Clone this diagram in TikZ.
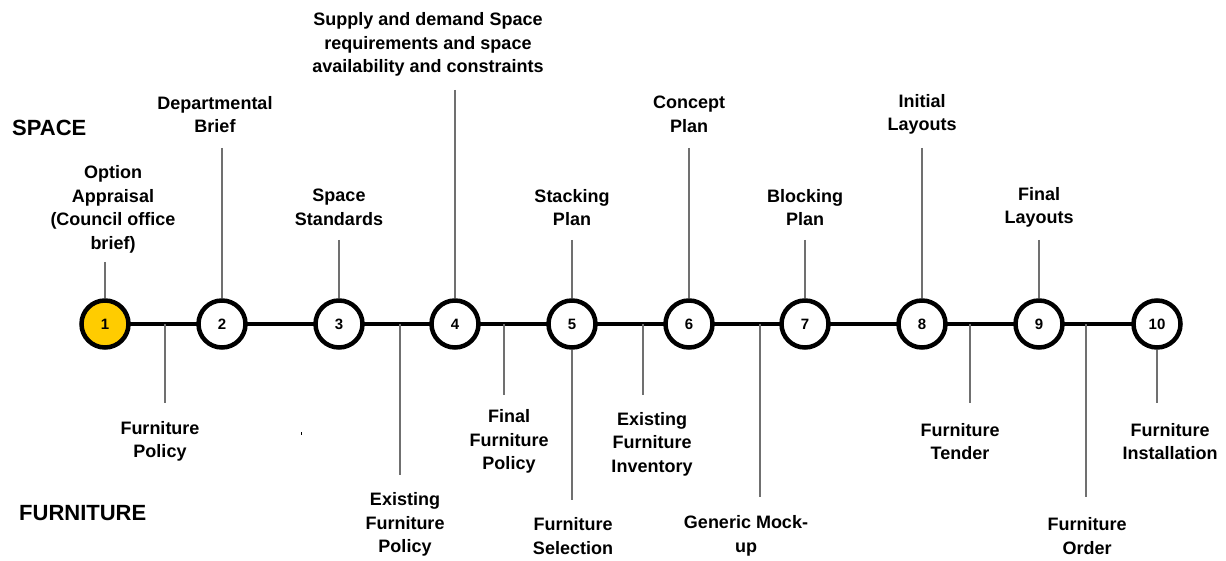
\documentclass[tikz,border=0pt]{standalone}
\usepackage{fontspec}
\setmainfont{Liberation Sans}
\definecolor{gold}{HTML}{FFCC00}
\definecolor{tickgray}{HTML}{707070}
\begin{document}
\begin{tikzpicture}[x=1pt,y=-1pt,
  stage/.style={circle, draw=black, line width=4.5pt, minimum size=47pt, fill=white, inner sep=0pt,
    font=\bfseries\fontsize{15}{18}\selectfont},
  lbl/.style={align=center, inner sep=0pt, font=\bfseries\fontsize{18}{23.5}\selectfont},
  head/.style={anchor=west, inner sep=0pt, font=\bfseries\fontsize{22}{26}\selectfont},
  tick/.style={draw=tickgray, line width=1.4pt},
  mainline/.style={draw=black, line width=4pt}]
\useasboundingbox (0,0) rectangle (1226,561);

% headings
\node[head] (space) at (12,128) {SPACE};
\node[head] (furn) at (19,513) {FURNITURE};

% main line
\coordinate (L) at (105,324);
\coordinate (R) at (1157,324);
\draw[mainline] (L) -- (R);

% stages
\node[stage, fill=gold] (c1) at (105,324) {1};
\node[stage] (c2) at (222,324) {2};
\node[stage] (c3) at (339,324) {3};
\node[stage] (c4) at (455,324) {4};
\node[stage] (c5) at (572,324) {5};
\node[stage] (c6) at (689,324) {6};
\node[stage] (c7) at (805,324) {7};
\node[stage] (c8) at (922,324) {8};
\node[stage] (c9) at (1039,324) {9};
\node[stage] (c10) at (1157,324) {10};

% space labels
\node[lbl] (s1) at (113,209.5) {Option\\Appraisal\\(Council office\\brief)};
\node[lbl] (s2) at (215,114.5) {Departmental\\Brief};
\node[lbl] (s3) at (339,207.5) {Space\\Standards};
\node[lbl] (s4) at (428,44.5) {Supply and demand Space\\requirements and space\\availability and constraints};
\node[lbl] (s5) at (572,207.5) {Stacking\\Plan};
\node[lbl] (s6) at (689,114.5) {Concept\\Plan};
\node[lbl] (s7) at (805,207.5) {Blocking\\Plan};
\node[lbl] (s8) at (922,114.5) {Initial\\Layouts};
\node[lbl] (s9) at (1039,207.5) {Final\\Layouts};

% top ticks
\coordinate (t1) at (105,262);
\coordinate (t2) at (222,148);
\coordinate (t3) at (339,240);
\coordinate (t4) at (455,90);
\coordinate (t5) at (572,240);
\coordinate (t6) at (689,148);
\coordinate (t7) at (805,240);
\coordinate (t8) at (922,148);
\coordinate (t9) at (1039,240);
\foreach \i in {1,...,9} \draw[tick] (t\i) -- (c\i.north);

% furniture labels
\node[lbl] (f1) at (160,441.5) {Furniture\\Policy};
\node[lbl] (f2) at (405,524.5) {Existing\\Furniture\\Policy};
\node[lbl] (f3) at (509,441.5) {Final\\Furniture\\Policy};
\node[lbl] (f4) at (573,536) {Furniture\\Selection};
\node[lbl] (f5) at (652,444) {Existing\\Furniture\\Inventory};
\node[lbl] (f6) at (746,536) {Generic Mock-\\up};
\node[lbl] (f7) at (960,441.5) {Furniture\\Tender};
\node[lbl] (f8) at (1087,536) {Furniture\\Order};
\node[lbl] (f9) at (1170,441.5) {Furniture\\Installation};

% bottom ticks
\coordinate (a1) at (165,324); \coordinate (b1) at (165,403);
\coordinate (a2) at (400,324); \coordinate (b2) at (400,475);
\coordinate (a3) at (504,324); \coordinate (b3) at (504,395);
\coordinate (b4) at (572,500);
\coordinate (a5) at (643,324); \coordinate (b5) at (643,395);
\coordinate (a6) at (760,324); \coordinate (b6) at (760,497);
\coordinate (a7) at (970,324); \coordinate (b7) at (970,403);
\coordinate (a8) at (1086,324); \coordinate (b8) at (1086,497);
\coordinate (b9) at (1157,403);
\draw[tick] (a1) -- (b1);
\draw[tick] (a2) -- (b2);
\draw[tick] (a3) -- (b3);
\draw[tick] (c5.south) -- (b4);
\draw[tick] (a5) -- (b5);
\draw[tick] (a6) -- (b6);
\draw[tick] (a7) -- (b7);
\draw[tick] (a8) -- (b8);
\draw[tick] (c10.south) -- (b9);

% stray dot
\fill (300.5,432) rectangle (302,434.5);
\end{tikzpicture}
\end{document}
